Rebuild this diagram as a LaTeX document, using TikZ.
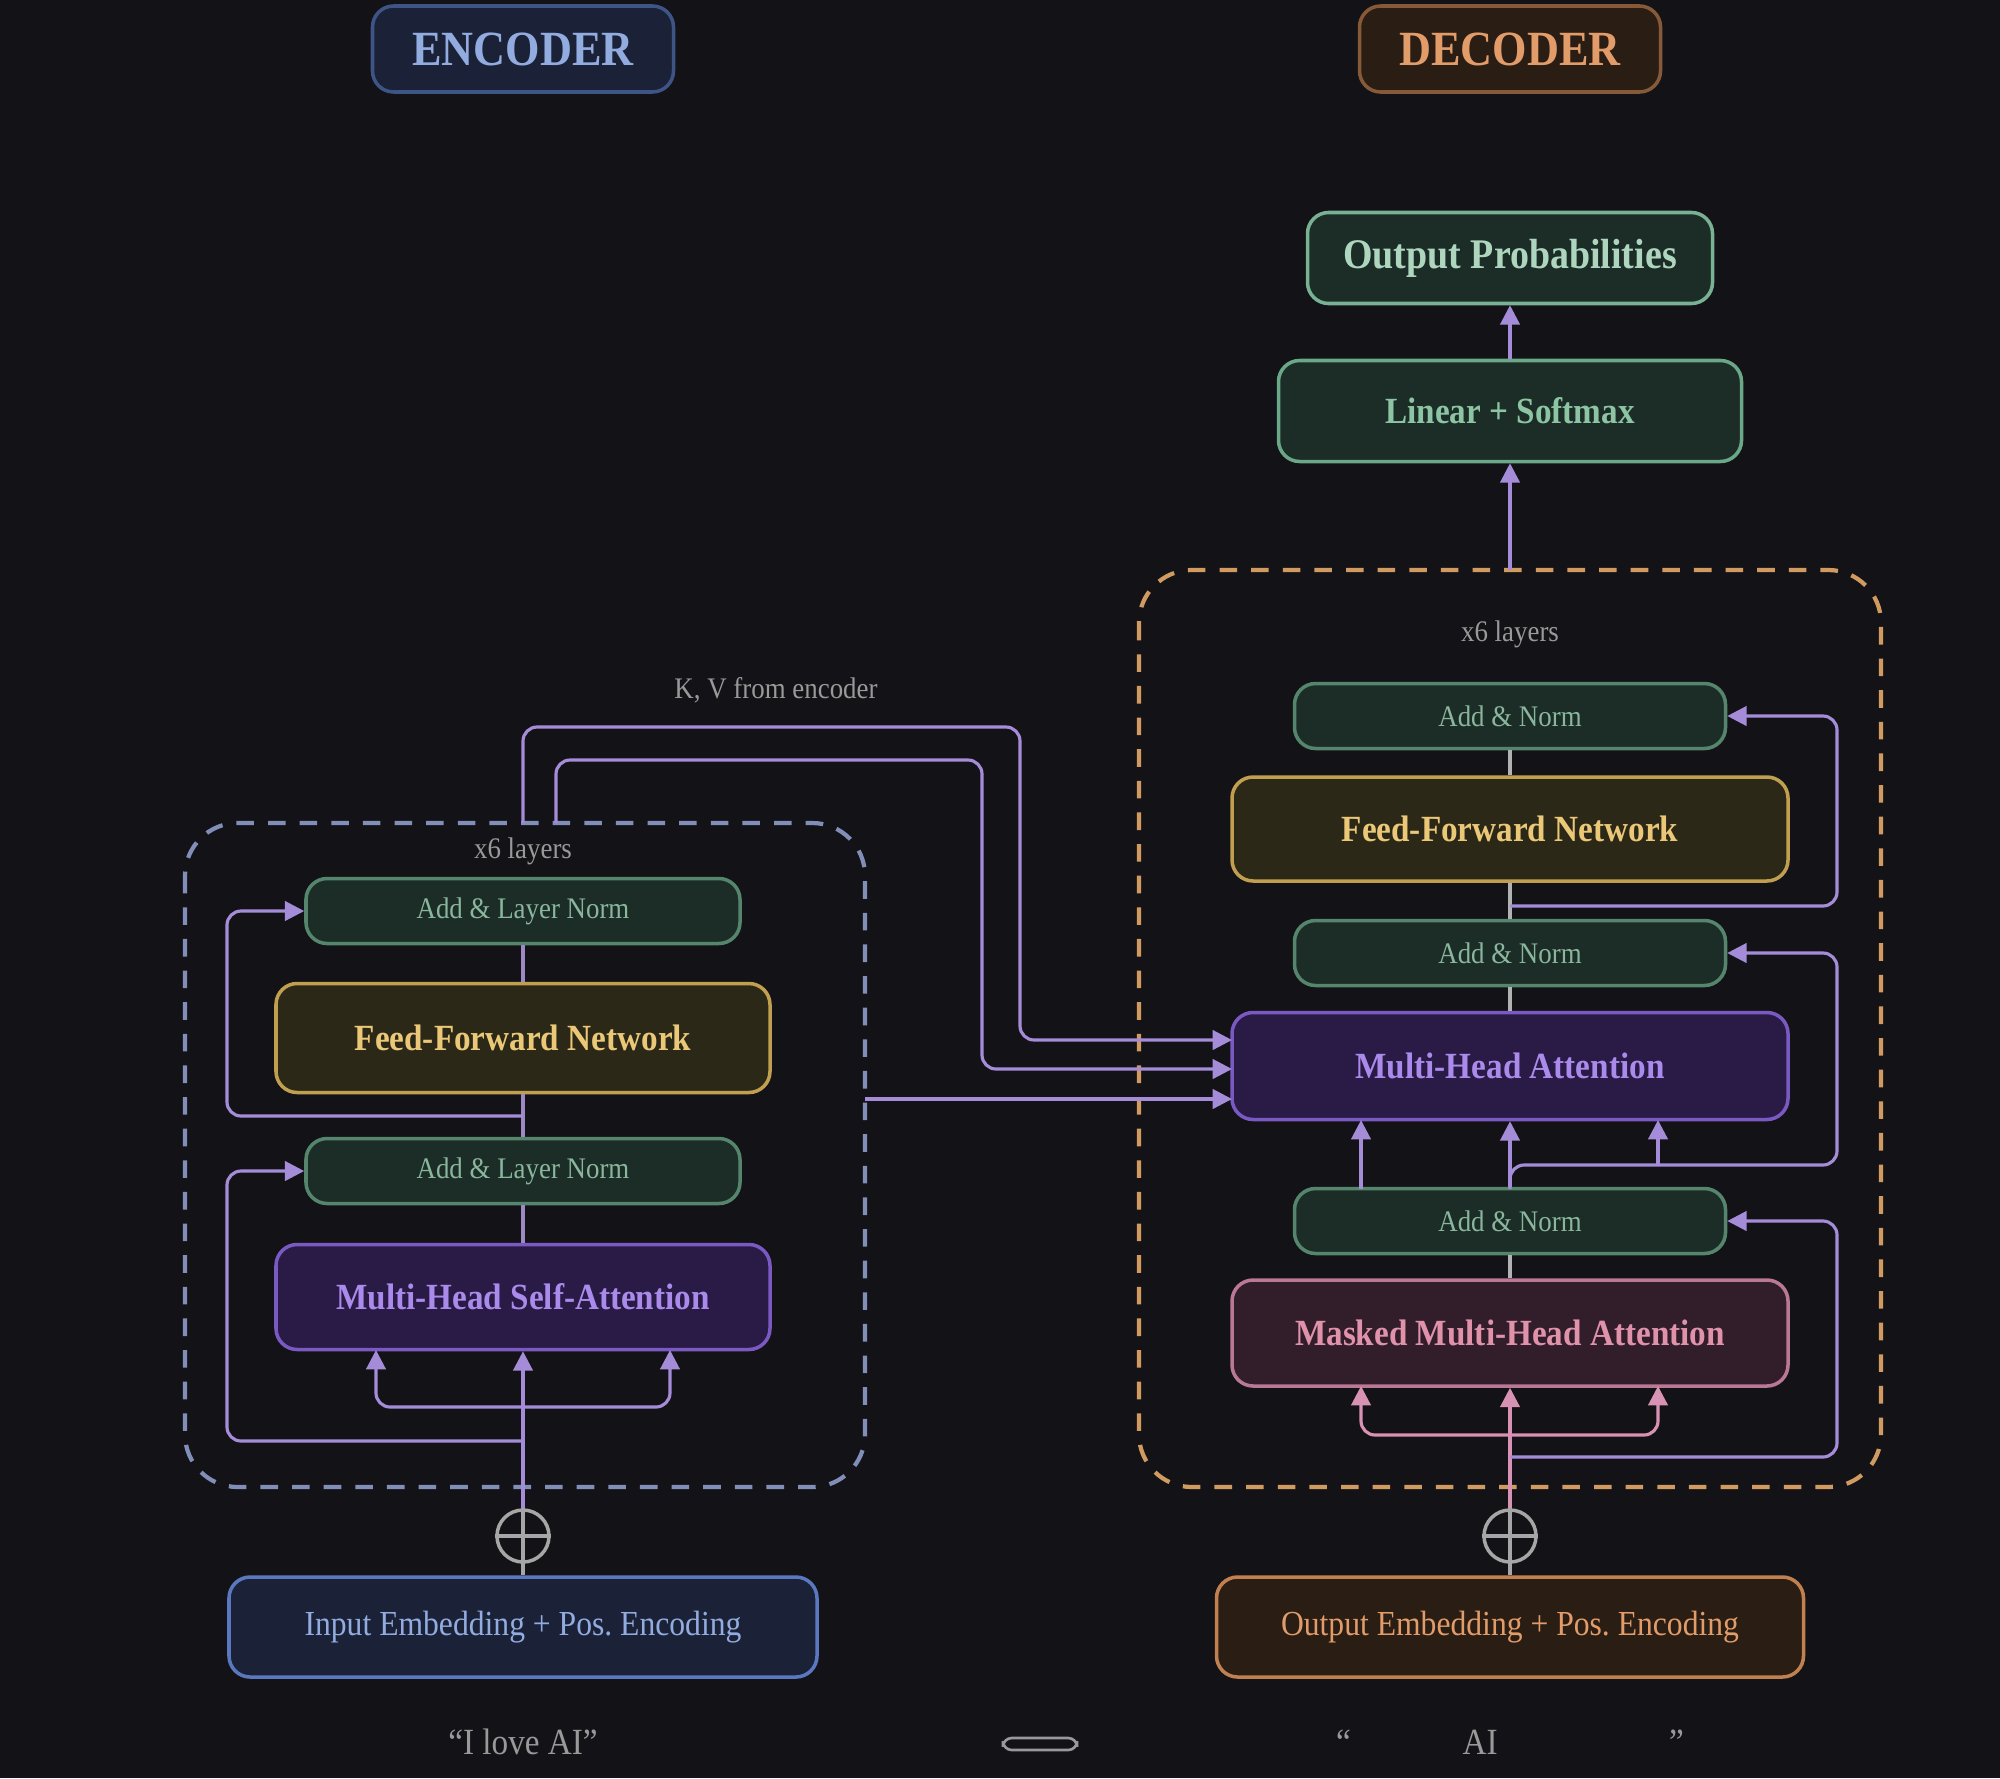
\documentclass[tikz,border=0pt]{standalone}
\usepackage{fontspec}
\setmainfont[FakeStretch=0.9]{Liberation Serif}
\usetikzlibrary{arrows.meta}
\definecolor{bg}{HTML}{131216}
\definecolor{arr}{HTML}{A58CD8}
\definecolor{pinkarr}{HTML}{D892B4}
\tikzset{
 x=0.02cm,y=-0.02cm,
 box/.style={draw,rounded corners=12pt,line width=2pt,align=center,inner sep=0pt,font=\bfseries\fontsize{21}{23}\selectfont},
 ar/.style={draw=arr,line width=1.8pt,rounded corners=8pt},
 tip/.style={-{Triangle[length=11pt,width=11pt]}},
 lbl/.style={text=gray!80,font=\fontsize{17}{19}\selectfont},
}
\frenchspacing
\begin{document}
\frenchspacing
\begin{tikzpicture}
\fill[bg] (0,0) rectangle (2000,1778);
\useasboundingbox (0,0) rectangle (2000,1778);
\definecolor{gfill}{HTML}{1C2D27}\definecolor{gdraw}{HTML}{6AA888}\definecolor{gtext}{HTML}{8CC4A4}
\definecolor{ffill}{HTML}{2C2818}\definecolor{fdraw}{HTML}{C0A050}\definecolor{ftext}{HTML}{EAC878}
\definecolor{pfill}{HTML}{2A1A46}\definecolor{pdraw}{HTML}{7A5AC2}\definecolor{ptext}{HTML}{AA8AEA}
\definecolor{mfill}{HTML}{321D2B}\definecolor{mdraw}{HTML}{B87896}\definecolor{mtext}{HTML}{E092AA}
\definecolor{efill}{HTML}{1B2238}\definecolor{edraw}{HTML}{5A78C0}\definecolor{etext}{HTML}{92ACE0}
\definecolor{ofill}{HTML}{2A1D14}\definecolor{odraw}{HTML}{C08050}\definecolor{otext}{HTML}{E29C6A}
% titles
\node[box,fill=efill,draw=edraw!70!black,text=etext,minimum width=301*0.02cm,minimum height=86*0.02cm,font=\bfseries\fontsize{28}{30}\selectfont] (enc) at (523,49) {ENCODER};
\node[box,fill=ofill,draw=odraw!70!black,text=otext,minimum width=301*0.02cm,minimum height=86*0.02cm,font=\bfseries\fontsize{28}{30}\selectfont] (dec) at (1510,49) {DECODER};
% dashed boxes
\draw[line width=2.4pt,dash pattern=on 10pt off 8pt,rounded corners=30pt,draw={rgb,255:red,128;green,142;blue,184}] (185,823) rectangle (865,1487);
\draw[line width=2.4pt,dash pattern=on 10pt off 8pt,rounded corners=30pt,draw={rgb,255:red,208;green,154;blue,96}] (1139,570) rectangle (1881,1487);
\node[lbl] (x6e) at (523,851) {x6 layers};
\node[lbl] (x6d) at (1510,634) {x6 layers};
\node[lbl] (kv) at (776,690) {K, V from encoder};
\coordinate (kv1) at (523,823);
\coordinate (kv2) at (556,823);
\coordinate (kv3) at (865,1099);
% decoder top
\node[box,fill=gfill,draw=gdraw!90!white,text=gtext!70!white,minimum width=405*0.02cm,minimum height=91*0.02cm,font=\bfseries\fontsize{24}{26}\selectfont] (op) at (1510,258) {Output Probabilities};
\node[box,fill=gfill,draw=gdraw,text=gtext,minimum width=463*0.02cm,minimum height=101*0.02cm] (lin) at (1510,411) {Linear + Softmax};
% decoder layers
\tikzset{an/.style={box,fill=gfill,draw=gdraw!80!black,text=gtext!80!gray,minimum width=431*0.02cm,minimum height=65*0.02cm,font=\fontsize{17}{19}\selectfont}}
\node[an] (dan3) at (1510,716) {Add \& Norm};
\node[box,fill=ffill,draw=fdraw,text=ftext,minimum width=556*0.02cm,minimum height=104*0.02cm] (dffn) at (1510,829) {Feed-Forward Network};
\node[an] (dan2) at (1510,953) {Add \& Norm};
\node[box,fill=pfill,draw=pdraw,text=ptext,minimum width=556*0.02cm,minimum height=107*0.02cm] (dmha) at (1510,1066) {Multi-Head Attention};
\node[an] (dan1) at (1510,1221) {Add \& Norm};
\node[box,fill=mfill,draw=mdraw,text=mtext,minimum width=556*0.02cm,minimum height=106*0.02cm] (mask) at (1510,1333) {Masked Multi-Head Attention};
\node[box,fill=ofill,draw=odraw,text=otext,minimum width=587*0.02cm,minimum height=100*0.02cm,font=\fontsize{20}{22}\selectfont] (oemb) at (1510,1627) {Output Embedding + Pos. Encoding};
% encoder layers
\tikzset{ln/.style={box,fill=gfill,draw=gdraw!80!black,text=gtext!80!gray,minimum width=434*0.02cm,minimum height=65*0.02cm,font=\fontsize{17}{19}\selectfont}}
\node[ln] (ean2) at (523,911) {Add \& Layer Norm};
\node[box,fill=ffill,draw=fdraw,text=ftext,minimum width=494*0.02cm,minimum height=109*0.02cm] (effn) at (523,1038) {Feed-Forward Network};
\node[ln] (ean1) at (523,1171) {Add \& Layer Norm};
\node[box,fill=pfill,draw=pdraw,text=ptext,minimum width=494*0.02cm,minimum height=105*0.02cm] (emha) at (523,1297) {Multi-Head Self-Attention};
\node[box,fill=efill,draw=edraw,text=etext,minimum width=588*0.02cm,minimum height=100*0.02cm,font=\fontsize{20}{22}\selectfont] (iemb) at (523,1627) {Input Embedding + Pos. Encoding};
% plus circles
\node[circle,draw=gray!70,line width=2pt,minimum size=52*0.02cm,inner sep=0pt] (pe) at (523,1536) {};
\node[circle,draw=gray!70,line width=2pt,minimum size=52*0.02cm,inner sep=0pt] (pd) at (1510,1536) {};
\foreach \n in {pe,pd}{\draw[gray!70,line width=2pt] (\n.west)--(\n.east) (\n.north)--(\n.south);}
% texts
\node[lbl,font=\fontsize{21}{23}\selectfont] (ilove) at (523,1742) {``I love AI''};
\node[lbl,font=\fontsize{21}{23}\selectfont] (hindi) at (1510,1742) {``मुझे AI पसंद है''};
\draw[gray!80,line width=1.5pt,rounded corners=5pt] (1003,1738) rectangle (1077,1750);
% encoder connections
\draw[gray!70,line width=2pt] (iemb.north)--(pe.south);
\draw[gray!70,line width=2pt] (oemb.north)--(pd.south);
\draw[ar,tip] (pe.north)--(emha.south);
\coordinate (ef) at (523,1407);
\draw[ar,tip] (ef)-|(376,1350);
\draw[ar,tip] (ef)-|(670,1350);
\draw[ar,draw=arr!80!gray] (emha.north)--(ean1.south) (ean1.north)--(effn.south) (effn.north)--(ean2.south);
\draw[ar,tip] (523,1441)-|(227,1171)--(ean1.west);
\draw[ar,tip] (523,1116)-|(227,911)--(ean2.west);
% K,V
\draw[ar,tip] (kv1)--(523,727)-|(1020,1040)--(1232,1040);
\draw[ar,tip] (kv2)|-(982,760)|-(1232,1069);
\draw[ar,tip] (kv3)--(1232,1099);
% decoder connections
\draw[ar,draw=pinkarr,tip] (pd.north)--(mask.south);
\coordinate (df) at (1510,1435);
\draw[ar,draw=pinkarr,tip] (df)-|(1361,1386);
\draw[ar,draw=pinkarr,tip] (df)-|(1658,1386);
\draw[ar,tip] (1510,1457)-|(1837,1221)--(dan1.east);
\draw[ar,draw=gray!60] (mask.north)--(dan1.south);
\draw[ar,tip] (dan1.north)--(dmha.south);
\draw[ar,tip] (1361,1189)--(1361,1120);
\draw[ar,tip] (1510,1189)--(1510,1165)-|(1837,953)--(dan2.east);
\draw[ar,tip] (1658,1165)--(1658,1120);
\draw[gray!60,line width=1.8pt] (dmha.north)--(dan2.south) (dan2.north)--(dffn.south) (dffn.north)--(dan3.south);
\draw[ar,tip] (1510,906)-|(1837,716)--(dan3.east);
\draw[ar,tip] (1510,570)--(lin.south);
\draw[ar,tip] (lin.north)--(op.south);
\end{tikzpicture}
\end{document}
